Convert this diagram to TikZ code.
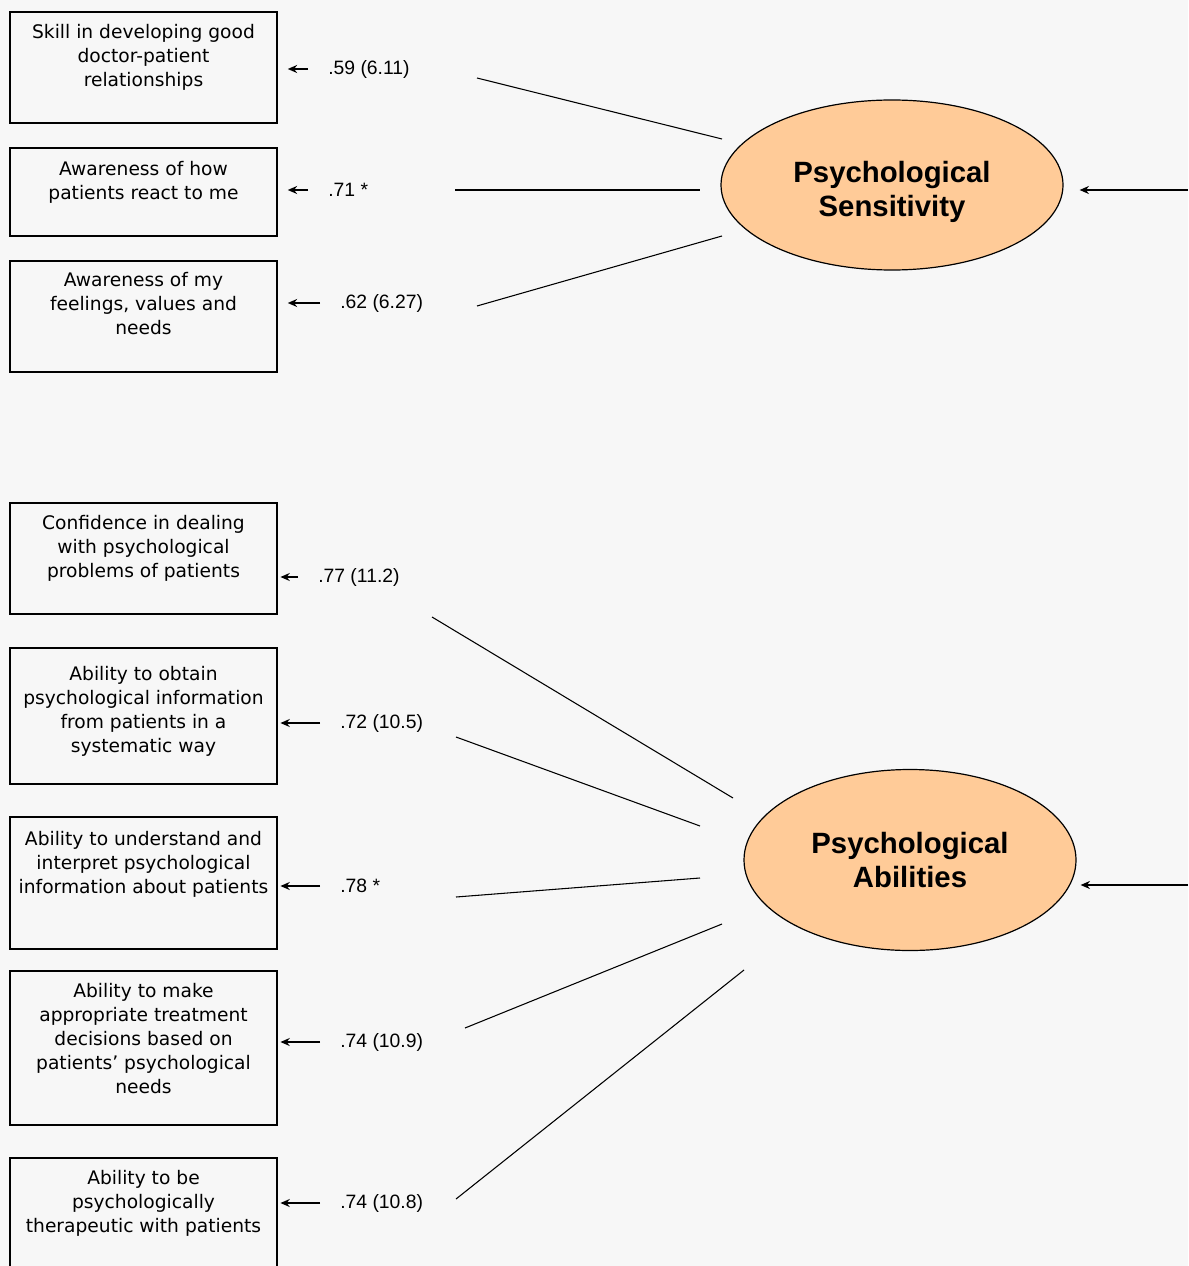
\documentclass[tikz,border=0pt]{standalone}
\usepackage{fontspec}
\setmainfont{DejaVu Sans}
\newfontfamily\loadfont{Liberation Sans}
\usetikzlibrary{positioning,shapes.geometric,arrows.meta}
\definecolor{peach}{HTML}{FFCB98}
\definecolor{paper}{HTML}{F7F7F7}

\tikzset{
  item/.style={draw,line width=1.4pt,minimum width=200pt,inner sep=0pt},
  itemtext/.style={anchor=north,align=center,inner sep=0pt,
    font=\fontsize{14}{18}\selectfont},
  factor/.style={ellipse,draw,line width=0.9pt,fill=peach,align=center,inner sep=0pt,
    font=\loadfont\bfseries\fontsize{22}{25.5}\selectfont},
  load/.style={anchor=west,inner sep=0pt,font=\loadfont\fontsize{14.5}{16}\selectfont},
  arr/.style={-{Stealth[length=7pt,width=6pt]},line width=1.3pt},
  link/.style={line width=0.8pt}
}

\begin{document}
\begin{tikzpicture}[x=0.75pt,y=-0.75pt]
\fill[paper] (0,0) rectangle (1188,1266);
\useasboundingbox (0,0) rectangle (1188,1266);

% indicator boxes
\node[item,minimum height=83.25pt] (b1) at (143.5,67.5) {};
\node[item,minimum height=66pt]    (b2) at (143.5,192) {};
\node[item,minimum height=83.25pt] (b3) at (143.5,316.5) {};
\node[item,minimum height=83.25pt] (b4) at (143.5,558.5) {};
\node[item,minimum height=102pt]   (b5) at (143.5,716) {};
\node[item,minimum height=99pt]    (b6) at (143.5,883) {};
\node[item,minimum height=115.5pt] (b7) at (143.5,1048) {};
\node[item,minimum height=99pt]    (b8) at (143.5,1224) {};

\node[itemtext] (t1) at ([yshift=-10pt]b1.north) {Skill in developing good\\doctor-patient\\relationships};
\node[itemtext] (t2) at ([yshift=-10.5pt]b2.north) {Awareness of how\\patients react to me};
\node[itemtext] (t3) at ([yshift=-9pt]b3.north) {Awareness of my\\feelings, values and\\needs};
\node[itemtext] (t4) at ([yshift=-9.5pt]b4.north) {Confidence in dealing\\with psychological\\problems of patients};
\node[itemtext] (t5) at ([yshift=-14pt]b5.north) {Ability to obtain\\psychological information\\from patients in a\\systematic way};
\node[itemtext] (t6) at ([yshift=-11pt]b6.north) {Ability to understand and\\interpret psychological\\information about patients};
\node[itemtext] (t7) at ([yshift=-9.5pt]b7.north) {Ability to make\\appropriate treatment\\decisions based on\\patients' psychological\\needs};
\node[itemtext] (t8) at ([yshift=-10pt]b8.north) {Ability to be\\psychologically\\therapeutic with patients};

% loadings
\node[load] (l1) at (328,69)   {.59 (6.11)};
\node[load] (l2) at (328,190)  {.71 *};
\node[load] (l3) at (340,303)  {.62 (6.27)};
\node[load] (l4) at (318,577)  {.77 (11.2)};
\node[load] (l5) at (340,723)  {.72 (10.5)};
\node[load] (l6) at (340,886)  {.78 *};
\node[load] (l7) at (340,1042) {.74 (10.9)};
\node[load] (l8) at (340,1203) {.74 (10.8)};

\foreach \i/\gap in {1/7.5,2/7.5,3/7.5,4/2,5/2,6/2,7/2,8/2}
  \draw[arr] ([xshift=-15pt]l\i.west) -- ([xshift=\gap pt]b\i.east |- l\i.west);

% factors
\node[factor,minimum width=256.5pt,minimum height=127.5pt] (sens) at (892,185)
  {\raisebox{-6pt}[\height][\depth]{\begin{tabular}{@{}c@{}}Psychological\\Sensitivity\end{tabular}}};
\node[factor,minimum width=249pt,minimum height=135.75pt] (abil) at (910,860) {Psychological\\Abilities};

\coordinate (in1) at (1188,190);
\coordinate (in2) at (1188,885);
\draw[arr,shorten >=12pt] (in1) -- (in1 -| sens.east);
\draw[arr,shorten >=3pt] (in2) -- (in2 -| abil.east);

% paths from the factors
\foreach \i/\sx/\sy/\ex/\ey in {1/477/78/722/139, 2/455/190/700/190, 3/477/306/722/236,
    4/432/617/733/798, 5/456/737/700/826, 6/456/897/700/878,
    7/465/1028/722/924, 8/456/1199/744/970}
{
  \coordinate (s\i) at (\sx,\sy);
  \coordinate (e\i) at (\ex,\ey);
  \draw[link] (s\i) -- (e\i);
}
\end{tikzpicture}
\end{document}
